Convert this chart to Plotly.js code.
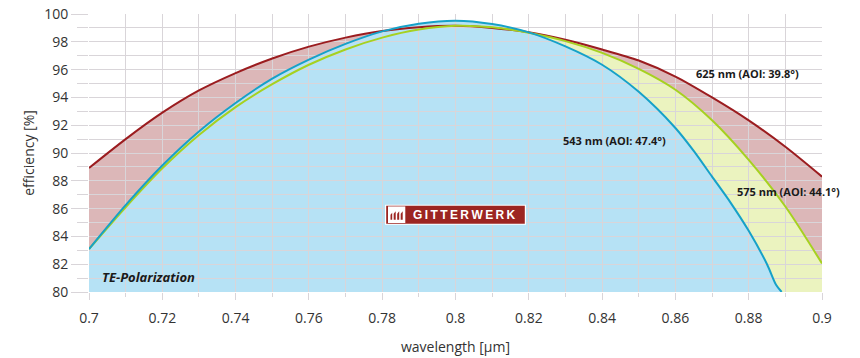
<!DOCTYPE html>
<html><head><meta charset="utf-8">
<script src="https://cdn.plot.ly/plotly-3.0.1.min.js"></script>
<style>html,body{margin:0;padding:0;background:#fff}#chart{width:860px;height:358px}</style>
</head><body><div id="chart"></div>
<script>
// wavelength grid (µm) for the 625 nm and 575 nm curves
const wl = [0.70,0.71,0.72,0.73,0.74,0.75,0.76,0.77,0.78,0.79,0.80,0.81,0.82,0.83,0.84,0.85,0.86,0.87,0.88,0.89,0.90];
const eff625 = [88.92,91.0,92.9,94.5,95.75,96.8,97.65,98.3,98.78,99.05,99.15,99.0,98.68,98.15,97.45,96.65,95.5,94.0,92.35,90.45,88.3];
const eff575 = [83.09,86.1,88.9,91.3,93.3,94.95,96.35,97.45,98.3,98.88,99.15,99.05,98.65,98.05,97.2,96.05,94.55,92.35,89.5,86.15,82.05];
// 543 nm curve ends where it leaves the plotted range
const wl543 = [0.70,0.71,0.72,0.73,0.74,0.75,0.76,0.77,0.78,0.79,0.80,0.81,0.82,0.83,0.84,0.85,0.86,0.865,0.87,0.875,0.88,0.885,0.8875,0.889];
const eff543 = [83.09,86.25,89.1,91.55,93.6,95.35,96.72,97.85,98.75,99.3,99.52,99.28,98.68,97.67,96.35,94.4,91.8,90.15,88.3,86.45,84.4,82.0,80.5,80.0];

const xTickVals = [0.7,0.72,0.74,0.76,0.78,0.8,0.82,0.84,0.86,0.88,0.9];
const xTickText = ['0.7','0.72','0.74','0.76','0.78','0.8','0.82','0.84','0.86','0.88','0.9'];
const yTickVals = [80,82,84,86,88,90,92,94,96,98,100];
const yTickText = ['80','82','84','86','88','90','92','94','96','98','100'];

const seriesNames = ['625 nm (AOI: 39.8°)','575 nm (AOI: 44.1°)','543 nm (AOI: 47.4°)'];

const lineCol = ['#9b1c1f','#a6d120','#16a1c8'];
const fillCol = ['#dcb7b8','#ebf3bf','#b6e2f5'];
const xs = [wl, wl, wl543];
const ys = [eff625, eff575, eff543];

const traces = [];
for (let i = 0; i < 3; i++) {
  traces.push({x: xs[i], y: ys[i], xaxis:'x', yaxis:'y', type:'scatter', mode:'lines',
    line:{width:0, shape:'spline', smoothing:0.8}, fill:'tozeroy', fillcolor:fillCol[i],
    hoverinfo:'skip', showlegend:false});
}
for (let i = 0; i < 3; i++) {
  traces.push({x: xs[i], y: ys[i], xaxis:'x2', yaxis:'y2', type:'scatter', mode:'lines',
    name: seriesNames[i], line:{width:2, color:lineCol[i], shape:'spline', smoothing:0.8},
    showlegend:false});
}

const gridC = '#d9d5d9';
const tickFont = {family:'Open Sans, sans-serif', size:14, color:'#333'};
const layout = {
  width:860, height:358,
  margin:{l:89, r:38, t:14, b:66},
  paper_bgcolor:'#ffffff', plot_bgcolor:'rgba(0,0,0,0)',
  showlegend:false,
  xaxis:{range:[0.7,0.9], visible:false, fixedrange:true},
  yaxis:{range:[80,100], visible:false, fixedrange:true},
  xaxis2:{range:[0.7,0.9], anchor:'y2', domain:[0,1], tickmode:'array', tickvals:xTickVals, ticktext:xTickText,
    showgrid:true, gridcolor:gridC, gridwidth:1, zeroline:false, showline:false,
    ticks:'outside', ticklen:7, tickcolor:gridC, tickfont:tickFont, ticklabelstandoff:6,
    minor:{tick0:0.7, dtick:0.01, showgrid:true, gridcolor:gridC, gridwidth:1, ticks:'outside', ticklen:4, tickcolor:gridC},
    title:{text:'wavelength [µm]', font:{family:'Open Sans, sans-serif', size:14, color:'#333'}, standoff:16}},
  yaxis2:{range:[80,100], anchor:'x2', domain:[0,1], tickmode:'array', tickvals:yTickVals, ticktext:yTickText,
    showgrid:true, gridcolor:gridC, gridwidth:1, zeroline:false, showline:false,
    ticks:'outside', ticklen:17, tickcolor:gridC, tickfont:tickFont,
    minor:{tick0:80, dtick:1, showgrid:true, gridcolor:gridC, gridwidth:1, ticks:'outside', ticklen:11, tickcolor:gridC},
    title:{text:'efficiency [%]', font:{family:'Open Sans, sans-serif', size:14, color:'#333'}, standoff:6}},
  annotations:[
    {x:0.8797, y:95.69, xref:'x2', yref:'y2', text:seriesNames[0], showarrow:false, font:{family:'Open Sans, sans-serif', size:11, color:'#1a1a1a', weight:'bold'}},
    {x:0.8909, y:87.24, xref:'x2', yref:'y2', text:seriesNames[1], showarrow:false, font:{family:'Open Sans, sans-serif', size:11, color:'#1a1a1a', weight:'bold'}},
    {x:0.8434, y:90.91, xref:'x2', yref:'y2', text:seriesNames[2], showarrow:false, font:{family:'Open Sans, sans-serif', size:11, color:'#1a1a1a', weight:'bold'}},
    {x:0.71636, y:81.06, xref:'x2', yref:'y2', text:'<b><i>TE-Polarization</i></b>', showarrow:false, font:{family:'Open Sans, sans-serif', size:13, color:'#1a1a1a'}},
    {x:0.8, y:85.56, xref:'x2', yref:'y2', xshift:9, text:'G\u2009I\u2009T\u2009T\u2009E\u2009R\u2009W\u2009E\u2009R\u2009K', showarrow:false,
      font:{family:'Liberation Sans, Arial, sans-serif', size:12, color:'#ffffff', weight:'bold'}}
  ],
  shapes:[
    {type:'rect', xref:'x2', yref:'y2', xsizemode:'pixel', ysizemode:'pixel', xanchor:0.8, yanchor:85.56,
      x0:-70.5, x1:70.5, y0:-10, y1:10, fillcolor:'#ffffff', line:{width:0}, layer:'above'},
    {type:'rect', xref:'x2', yref:'y2', xsizemode:'pixel', ysizemode:'pixel', xanchor:0.8, yanchor:85.56,
      x0:-69.3, x1:69.3, y0:-9, y1:9, fillcolor:'#9c2521', line:{width:0}, layer:'above'},
    {type:'rect', xref:'x2', yref:'y2', xsizemode:'pixel', ysizemode:'pixel', xanchor:0.8, yanchor:85.56,
      x0:-67.5, x1:-50.2, y0:-8.3, y1:8.3, fillcolor:'#ffffff', line:{width:0}, layer:'above'},
    {type:'path', xref:'x2', yref:'y2', xsizemode:'pixel', ysizemode:'pixel', xanchor:0.8, yanchor:85.56,
      path:'M-65,-5 L-65,0 L-63.3,2 L-63.3,-5 Z M-61.8,-5 L-61.8,1 L-59.8,3.5 L-59.8,-5 Z M-58.3,-5 L-58.3,1 L-56.3,3.5 L-56.3,-5 Z M-54.8,-5 L-54.8,1 L-52.8,3.5 L-52.8,-5 Z',
      fillcolor:'#9c2521', line:{width:0}, layer:'above'}
  ]
};
Plotly.newPlot('chart', traces, layout, {displayModeBar:false, staticPlot:true});
</script>
</body></html>
